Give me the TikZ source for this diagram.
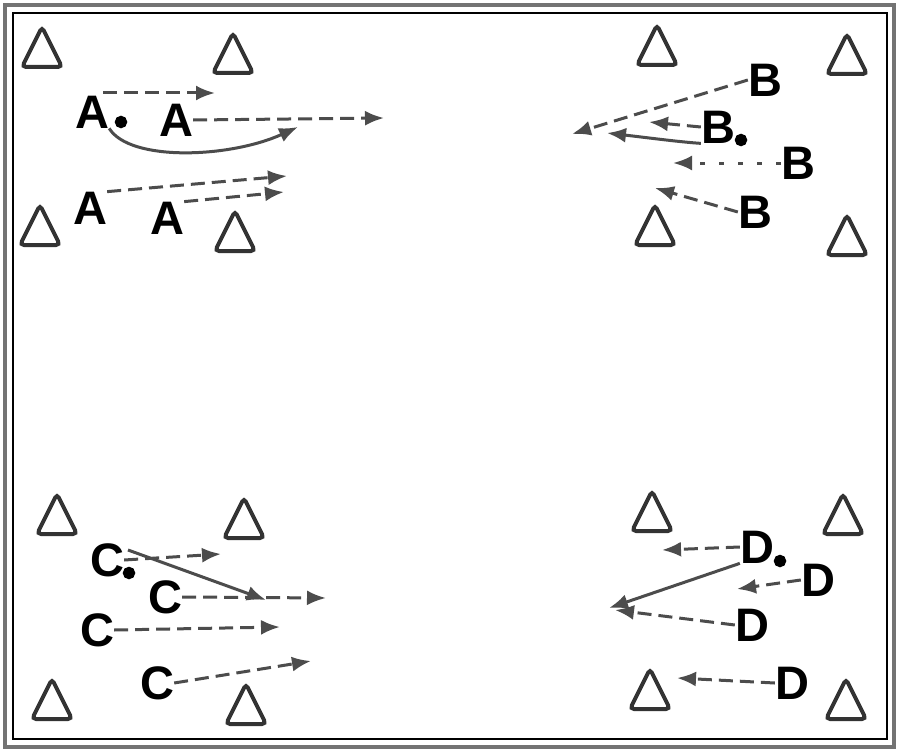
\documentclass[tikz,border=0pt]{standalone}
\usepackage{fontspec}
\setmainfont{Liberation Sans}
\usetikzlibrary{arrows.meta,calc}
\begin{document}
\begin{tikzpicture}[x=1pt,y=-1pt,
  cone/.style={draw=black!80,line width=4pt,rounded corners=4pt,fill=white},
  player/.style={font=\fontsize{47}{47}\selectfont\bfseries,inner sep=0pt},
  ball/.style={circle,draw=black,line width=1.5pt,fill=black,minimum size=11pt,inner sep=0pt},
  tip/.style={-{Latex[length=19pt,width=15pt]}},
  run/.style={draw=black!70,line width=3pt,dash pattern=on 14pt off 7pt,tip},
  pass/.style={draw=black!70,line width=3pt,tip},
  dotrun/.style={draw=black!70,line width=3pt,dash pattern=on 5pt off 14pt,tip}]
\useasboundingbox (0,0) rectangle (900,752);
\fill[white] (0,0) rectangle (900,752);
% frame
\draw[black!55,line width=4pt] (5,5) rectangle (894,747);
\draw[black,line width=1.5pt] (13,13) rectangle (887,739);
% cones
\foreach \n/\x/\y in {c1/42/48, c2/233/54, c3/40/226, c4/235/232,
  c5/657/46, c6/847/55, c7/655/226, c8/847/236,
  c9/57/515, c10/244/519, c11/52/700, c12/246/705,
  c13/652/512, c14/843/515, c15/650/690, c16/846/700}{
  \coordinate (\n) at (\x,\y);
  \draw[cone] ($(\n)+(0,-21)$) -- ($(\n)+(20,19)$) -- ($(\n)+(-20,19)$) -- cycle;
}
% players A
\node[player] (A1) at (92,112) {A};
\node[ball] (bA) at (121,122) {};
\node[player] (A2) at (176,120) {A};
\node[player] (A3) at (90,208) {A};
\node[player] (A4) at (167,218) {A};
\coordinate (eA1) at (215,93);
\coordinate (eA2) at (384,118);
\coordinate (eA3) at (298,127);
\coordinate (eA4) at (287,176);
\coordinate (eA5) at (284,192);
\draw[run] (103,93) -- (eA1);
\draw[run] (A2.east) -- (eA2);
\draw[pass] (A1.south east) .. controls (130,162) and (230,158) .. (eA3);
\draw[run] (A3.north east) -- (eA4);
\draw[run] (A4.north east) -- (eA5);
% players B
\node[player] (B1) at (765,80) {B};
\node[player] (B2) at (718,127) {B};
\node[ball] (bB) at (741,140) {};
\node[player] (B3) at (798,163) {B};
\node[player] (B4) at (755,212) {B};
\coordinate (eB1) at (572,134);
\coordinate (eB2) at (649,122);
\coordinate (eB3) at (607,133);
\coordinate (eB4) at (673,163);
\coordinate (eB5) at (655,188);
\draw[run] (B1.west) -- (eB1);
\draw[run] (B2.west) -- (eB2);
\draw[pass] (B2.south west) .. controls (680,142) and (650,138) .. (eB3);
\draw[dotrun] (B3.west) -- (eB4);
\draw[run] (B4.west) -- (eB5);
% players C
\node[player] (C1) at (107,560) {C};
\node[ball] (bC) at (129,573) {};
\node[player] (C2) at (165,597) {C};
\node[player] (C3) at (97,630) {C};
\node[player] (C4) at (157,683) {C};
\coordinate (eC1) at (221,554);
\coordinate (eC2) at (266,600);
\coordinate (eC3) at (326,598);
\coordinate (eC4) at (280,627);
\coordinate (eC5) at (311,661);
\draw[run] (C1.east) -- (eC1);
\draw[pass] (128,550) -- (eC2);
\draw[run] (C2.east) -- (eC3);
\draw[run] (C3.east) -- (eC4);
\draw[run] (C4.east) -- (eC5);
% players D
\node[player] (D1) at (757,547) {D};
\node[ball] (bD) at (780,561) {};
\node[player] (D2) at (818,580) {D};
\node[player] (D3) at (752,625) {D};
\node[player] (D4) at (792,683) {D};
\coordinate (eD1) at (662,550);
\coordinate (eD2) at (609,608);
\coordinate (eD3) at (737,589);
\coordinate (eD4) at (615,610);
\coordinate (eD5) at (677,678);
\draw[run] (D1.west) -- (eD1);
\draw[pass] (D1.south west) -- (eD2);
\draw[run] (D2.west) -- (eD3);
\draw[run] (D3.west) -- (eD4);
\draw[run] (D4.west) -- (eD5);
\end{tikzpicture}
\end{document}
